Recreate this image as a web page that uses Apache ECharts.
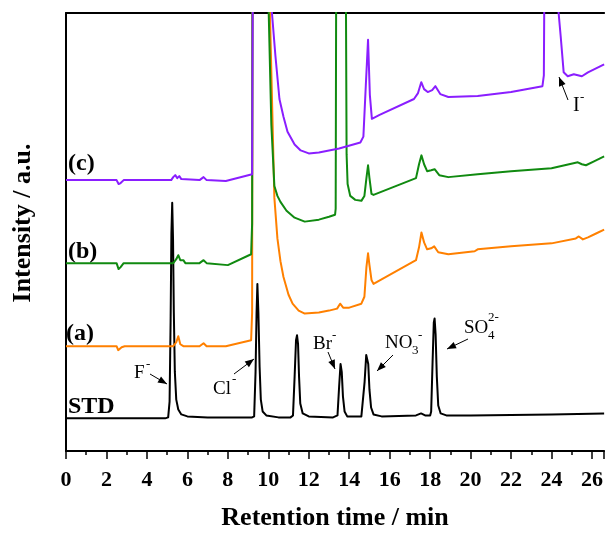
<!DOCTYPE html>
<html><head><meta charset="utf-8">
<script src="https://cdn.jsdelivr.net/npm/echarts@6/dist/echarts.min.js"></script>
<style>html,body{margin:0;padding:0;background:#fff}#c{width:606px;height:536px}</style>
</head><body><div id="c"></div>
<script>
// ---- data (retention time [min], intensity [a.u.]) ----
const xTickStep = 2;
const xMin = 0, xMax = 26.6;
const yMin = 0, yMax = 443;

const stdSeries = [[0,33],[4.9,33],[5.05,34],[5.12,50],[5.17,130],[5.21,220],[5.25,251],[5.29,215],[5.33,140],[5.38,80],[5.45,52],[5.55,42],[5.7,37],[6.0,35],[7,34],[9.2,34],
[9.3,35],[9.37,80],[9.42,140],[9.46,169],[9.51,140],[9.57,85],[9.63,52],[9.72,40],[9.9,36],[10.5,34],[11.1,34],
[11.22,36],[11.3,75],[11.37,112],[11.42,117],[11.47,108],[11.52,75],[11.58,48],[11.7,38],[12,35],[13.2,34],
[13.42,36],[13.5,65],[13.57,88],[13.63,80],[13.69,55],[13.77,40],[13.9,35],[14.6,35],
[14.68,37],[14.76,70],[14.84,97],[14.88,99],[14.94,88],[15.0,62],[15.08,44],[15.2,37],[15.6,35],[17.3,36],[17.55,38],[17.75,36],[18.0,36],
[18.05,40],[18.12,90],[18.18,130],[18.22,134],[18.27,118],[18.33,75],[18.4,46],[18.52,38],[18.8,36],[20,36],[24,37],[26.6,38]];

const seriesA = [[0,106],[2.5,106],[2.58,102],[2.65,101],[2.75,105],[2.9,106],[5.3,106],[5.45,110],[5.55,116],[5.65,108],[5.8,106],[6.6,106],[6.8,109],[6.95,106],[7.9,106],[9.15,112],[9.2,140],[9.22,520],
[10.0,520],[10.08,443],[10.3,256],[10.45,215],[10.6,192],[10.75,176],[11.0,158],[11.2,149],[11.5,142],[11.8,139],[12.5,140],[13.0,142],[13.4,144],[13.55,149],[13.7,145],[14.0,145],[14.6,149],[14.75,156],[14.85,186],[14.93,200],[15.0,188],[15.1,173],[15.2,169],
[17.3,193],[17.45,206],[17.57,221],[17.7,211],[17.85,204],[18.05,205],[18.2,207],[18.4,201],[18.9,199],[20.2,202],[20.35,204],[22,207],[24,210],[25.2,215],[25.35,217],[25.55,214],[25.8,216],[26.2,220],[26.6,224]];

const seriesB = [[0,190],[2.5,190],[2.6,184],[2.7,186],[2.85,190],[5.3,190],[5.45,194],[5.55,198],[5.65,193],[5.8,193],[5.9,190],[6.6,190],[6.8,193],[6.95,190],[8.0,188],[9.15,199],[9.2,230],[9.22,520],
[9.98,520],[10.02,443],[10.15,330],[10.3,268],[10.45,258],[10.6,252],[10.9,243],[11.3,236],[11.8,232],[12.5,234],[13.0,237],[13.3,239],[13.33,245],[13.36,520],
[13.8,520],[13.84,443],[13.87,300],[13.92,270],[14.05,258],[14.3,254],[14.6,253],[14.75,258],[14.85,276],[14.93,289],[15.0,276],[15.1,260],[15.2,259],
[17.3,276],[17.45,290],[17.57,299],[17.7,290],[17.85,283],[18.05,284],[18.22,285],[18.45,279],[18.9,277],[20.35,280],[22,283],[24,286],[25.3,292],[25.5,290],[25.7,289],[26.1,293],[26.6,298]];

const seriesC = [[0,274],[2.5,274],[2.6,270],[2.7,271],[2.85,274],[5.2,274],[5.3,277],[5.4,279],[5.5,276],[5.6,278],[5.7,275],[6.6,274],[6.8,277],[6.95,274],[7.9,273],[9.2,280],[9.24,520],
[10.13,520],[10.18,443],[10.35,400],[10.55,356],[10.75,338],[10.95,323],[11.3,310],[11.6,304],[12.0,301],[12.5,302],[13.5,306],[14.55,312],[14.7,318],[14.82,370],[14.93,416],[15.02,360],[15.12,336],[15.5,340],
[17.2,356],[17.4,362],[17.56,373],[17.7,366],[17.88,363],[18.1,365],[18.26,369],[18.5,361],[18.9,358],[20.35,359],[22,363],[23.55,369],[23.62,380],[23.66,520],
[24.3,520],[24.35,443],[24.45,420],[24.6,383],[24.8,379],[25.1,381],[25.5,379],[25.8,383],[26.2,387],[26.6,391]];

// ---- rendering ----
const FONT = '"Times New Roman", "Liberation Serif", serif';
const chart = echarts.init(document.getElementById('c'), null, {renderer: 'canvas'});

function line(name, data, color, z) {
  return {name, type: 'line', data, showSymbol: false, symbol: 'none', clip: true, z,
    lineStyle: {color, width: 2, join: 'round'}, animation: false};
}

const txt = (x, y, text, size, bold) => ({
  type: 'text', x, y, style: {text, fontFamily: FONT, fontSize: size, fontWeight: bold ? 'bold' : 'normal',
  fill: '#000', verticalAlign: 'middle'}});

const arrows = [
  [150,374,167,384],[234,374,254,359],[328,352,335,369],[393,355,377,371],[468,339,447,349],[568,100,559,77]
];
const graphics = [];
arrows.forEach(([x1,y1,x2,y2]) => {
  graphics.push({type:'line', shape:{x1,y1,x2,y2}, style:{stroke:'#000', lineWidth:1}});
  const ang = Math.atan2(y2-y1, x2-x1), L = 9, W = 3.5;
  const bx = x2 - L*Math.cos(ang), by = y2 - L*Math.sin(ang);
  graphics.push({type:'polygon', shape:{points:[[x2,y2],[bx - W*Math.sin(ang), by + W*Math.cos(ang)],[bx + W*Math.sin(ang), by - W*Math.cos(ang)]]}, style:{fill:'#000'}});
});
[
  txt(68,164,'(c)',24,true), txt(68,252,'(b)',24,true), txt(66,334,'(a)',24,true), txt(68,407,'STD',24,true),
  txt(134,373,'F',19,false), txt(146,365,'-',13,false),
  txt(213,389,'Cl',19,false), txt(232,380,'-',13,false),
  txt(313,344,'Br',19,false), txt(332,336,'-',13,false),
  txt(385,343,'NO',19,false), txt(412,351,'3',13,false), txt(418,336,'-',13,false),
  txt(464,328,'SO',19,false), txt(488,336,'4',13,false), txt(488,318,'2-',13,false),
  txt(573,106,'I',20,false), txt(580,98,'-',13,false)
].forEach(g => graphics.push(g));

chart.setOption({
  animation: false,
  backgroundColor: '#fff',
  grid: {left: 66, top: 13, right: 0, bottom: 80, containLabel: false},
  xAxis: [{
    type: 'value', min: xMin, max: xMax, interval: xTickStep, position: 'bottom',
    name: 'Retention time / min', nameLocation: 'middle', nameGap: 54,
    nameTextStyle: {fontFamily: FONT, fontSize: 26, fontWeight: 'bold', color: '#000'},
    axisLine: {show: true, onZero: false, lineStyle: {color: '#000', width: 2}},
    axisTick: {show: true, inside: false, length: 8, lineStyle: {color: '#000', width: 1.5}},
    minorTick: {show: true, splitNumber: 2, length: 4, lineStyle: {color: '#000', width: 1.5}},
    axisLabel: {show: true, margin: 18, fontFamily: FONT, fontSize: 22, fontWeight: 'bold', color: '#000',
      formatter: v => String(v)},
    splitLine: {show: false}
  }, {
    type: 'value', min: xMin, max: xMax, position: 'top',
    axisLine: {show: true, onZero: false, lineStyle: {color: '#000', width: 2}},
    axisTick: {show: false}, axisLabel: {show: false}, splitLine: {show: false}
  }],
  yAxis: {
    type: 'value', min: yMin, max: yMax,
    name: 'Intensity / a.u.', nameLocation: 'middle', nameGap: 30,
    nameTextStyle: {fontFamily: FONT, fontSize: 26, fontWeight: 'bold', color: '#000', padding: [0,0,0,18]},
    axisLine: {show: true, onZero: false, lineStyle: {color: '#000', width: 2}},
    axisTick: {show: false}, axisLabel: {show: false}, splitLine: {show: false}
  },
  series: [
    line('STD', stdSeries, '#000000', 2),
    line('(a)', seriesA, '#FF8000', 3),
    line('(b)', seriesB, '#108A10', 4),
    line('(c)', seriesC, '#8A1EFF', 5)
  ],
  graphic: graphics
});
</script></body></html>
